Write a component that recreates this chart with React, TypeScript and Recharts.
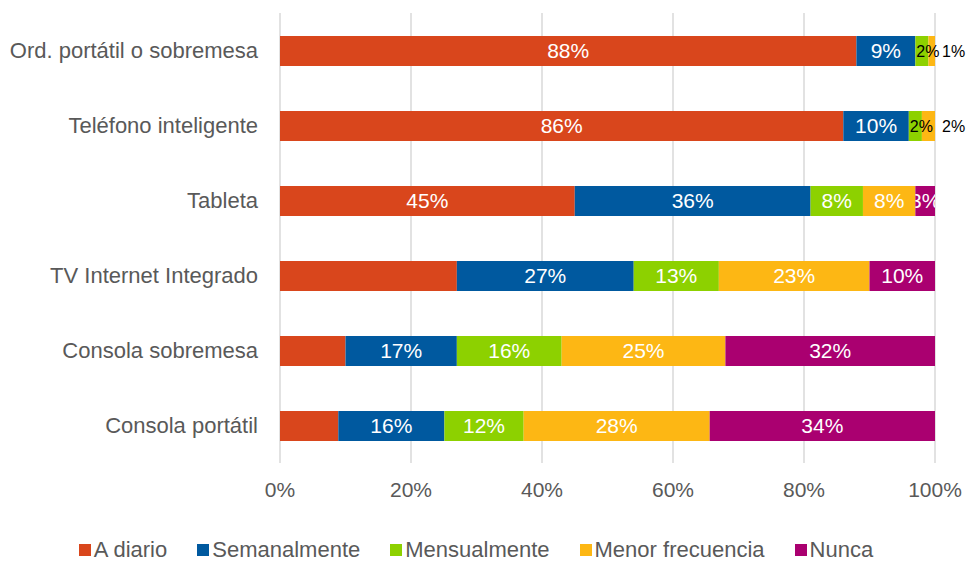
import React from 'react';
import { BarChart, Bar, XAxis, YAxis, CartesianGrid, LabelList, Legend } from 'recharts';

const categories = [
  'Ord. portátil o sobremesa',
  'Teléfono inteligente',
  'Tableta',
  'TV Internet Integrado',
  'Consola sobremesa',
  'Consola portátil',
];
const aDiario = [88, 86, 45, 27, 10, 8.9];
const semanalmente = [9, 10, 36, 27, 17, 16.2];
const mensualmente = [2, 2, 8, 13, 16, 12.1];
const menorFrecuencia = [1, 2, 8, 23, 25, 28.4];
const nunca = [0, 0, 3, 10, 32, 34.4];
const showADiarioLabel = [true, true, true, false, false, false];
const xTicks = [0, 20, 40, 60, 80, 100];

const seriesNames = ['A diario', 'Semanalmente', 'Mensualmente', 'Menor frecuencia', 'Nunca'];
const seriesValues = [aDiario, semanalmente, mensualmente, menorFrecuencia, nunca];
const seriesColors = ['#D9461C', '#00599F', '#8DD100', '#FDB714', '#AA0070'];

const FONT = '"Liberation Sans", Arial, sans-serif';

const data = categories.map((name, i) => {
  const row: any = { name, rowIdx: i };
  seriesValues.forEach((arr, si) => {
    row['s' + si] = arr[i];
  });
  return row;
});

const makeLabel = (si: number) => (props: any) => {
  const { x, y, width, height } = props;
  const index = Number(props.value);
  const v = seriesValues[si][index];
  if (!v) return null;
  if (si === 0 && !showADiarioLabel[index]) return null;
  const text = Math.round(v) + '%';
  const nx = Number(x);
  const ny = Number(y);
  const nw = Number(width);
  const nh = Number(height);
  const cy = ny + nh / 2;
  if (v < 3) {
    const isLast = seriesValues.slice(si + 1).every((arr) => !arr[index]);
    const tx = isLast ? nx + nw + 7 : nx + 1;
    return (
      <text x={tx} y={cy} dy="0.35em" fontSize={16} fill="#000" textAnchor="start" fontFamily={FONT}>
        {text}
      </text>
    );
  }
  const id = `lblclip-${si}-${index}`;
  return (
    <g>
      <defs>
        <clipPath id={id}>
          <rect x={nx} y={ny} width={nw} height={nh} />
        </clipPath>
      </defs>
      <text
        x={nx + nw / 2}
        y={cy}
        dy="0.35em"
        fontSize={21}
        fill="#FFFFFF"
        textAnchor="middle"
        fontFamily={FONT}
        clipPath={`url(#${id})`}
      >
        {text}
      </text>
    </g>
  );
};

const LegendContent = () => (
  <div
    style={{
      display: 'flex',
      justifyContent: 'center',
      alignItems: 'center',
      gap: 30,
      paddingRight: 16,
      fontFamily: FONT,
      fontSize: 22,
      color: '#595959',
      whiteSpace: 'nowrap',
    }}
  >
    {seriesNames.map((n, i) => (
      <div key={n} style={{ display: 'flex', alignItems: 'center' }}>
        <span style={{ display: 'inline-block', width: 12, height: 12, background: seriesColors[i], marginRight: 3 }} />
        <span>{n}</span>
      </div>
    ))}
  </div>
);

export default function App() {
  return (
    <div style={{ position: 'absolute', left: 0, top: 0, width: 968, height: 561, background: '#fff' }}>
      <BarChart
        width={968}
        height={561}
        data={data}
        layout="vertical"
        margin={{ top: 13, right: 33, left: 0, bottom: 68 }}
        barSize={30}
      >
        <CartesianGrid horizontal={false} vertical={true} stroke="#D9D9D9" strokeWidth={1.5} />
        <XAxis
          type="number"
          domain={[0, 100]}
          ticks={xTicks}
          tickFormatter={(v: number) => v + '%'}
          axisLine={false}
          tickLine={false}
          tickSize={0}
          tickMargin={19}
          height={30}
          tick={{ fill: '#595959', fontSize: 21, fontFamily: FONT }}
          interval={0}
        />
        <YAxis
          type="category"
          dataKey="name"
          width={280}
          axisLine={false}
          tickLine={false}
          tickSize={0}
          tickMargin={22}
          tick={{ fill: '#595959', fontSize: 22, fontFamily: FONT }}
          interval={0}
        />
        <Legend
          verticalAlign="middle"
          layout="horizontal"
          align="center"
          wrapperStyle={{ top: 537, left: 0, width: 968, height: 26 }}
          content={() => <LegendContent />}
        />
        {seriesNames.map((n, si) => (
          <Bar key={n} dataKey={'s' + si} name={n} stackId="a" fill={seriesColors[si]} isAnimationActive={false}>
            <LabelList dataKey="rowIdx" content={makeLabel(si)} />
          </Bar>
        ))}
      </BarChart>
    </div>
  );
}
